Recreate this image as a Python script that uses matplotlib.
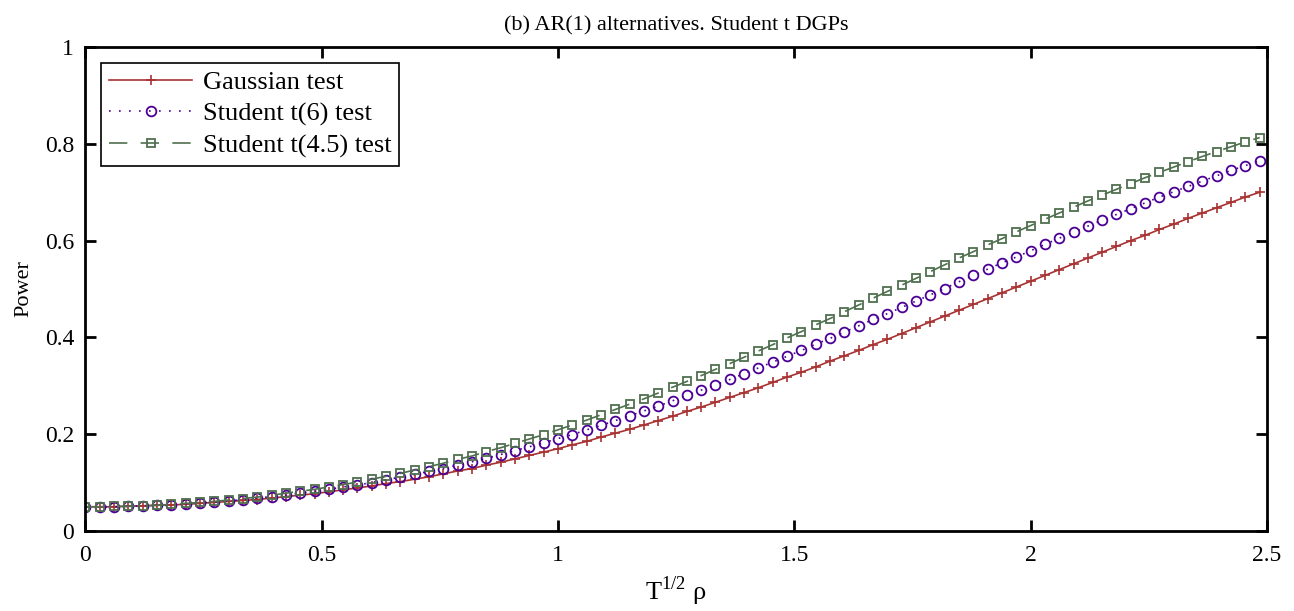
import numpy as np
import matplotlib
matplotlib.use("Agg")
import matplotlib.pyplot as plt

# x grid: T^{1/2} rho, 83 markers from 0 in steps of 1/33
n_points = 83
x_step = 1 / 33
x = np.arange(n_points) * x_step

gaussian = [0.050, 0.050, 0.050, 0.051, 0.052, 0.053, 0.054, 0.055, 0.057, 0.059,
            0.061, 0.063, 0.065, 0.068, 0.071, 0.074, 0.077, 0.081, 0.085, 0.089,
            0.093, 0.098, 0.102, 0.107, 0.112, 0.118, 0.124, 0.129, 0.136, 0.142,
            0.149, 0.156, 0.163, 0.170, 0.178, 0.185, 0.194, 0.202, 0.210, 0.219,
            0.228, 0.237, 0.247, 0.256, 0.266, 0.276, 0.286, 0.296, 0.307, 0.318,
            0.328, 0.339, 0.351, 0.362, 0.373, 0.385, 0.396, 0.408, 0.420, 0.432,
            0.444, 0.456, 0.468, 0.480, 0.492, 0.504, 0.516, 0.528, 0.540, 0.552,
            0.564, 0.576, 0.588, 0.600, 0.611, 0.623, 0.634, 0.646, 0.657, 0.668,
            0.679, 0.690, 0.700]

student_t6 = [0.050, 0.050, 0.050, 0.051, 0.052, 0.053, 0.054, 0.056, 0.058, 0.060,
              0.062, 0.065, 0.068, 0.071, 0.074, 0.078, 0.082, 0.086, 0.091, 0.095,
              0.100, 0.106, 0.111, 0.117, 0.123, 0.129, 0.136, 0.143, 0.150, 0.158,
              0.166, 0.174, 0.182, 0.191, 0.199, 0.209, 0.218, 0.228, 0.238, 0.248,
              0.258, 0.269, 0.280, 0.291, 0.302, 0.313, 0.325, 0.337, 0.349, 0.361,
              0.373, 0.386, 0.398, 0.411, 0.424, 0.437, 0.449, 0.462, 0.475, 0.488,
              0.501, 0.515, 0.528, 0.541, 0.554, 0.566, 0.579, 0.592, 0.605, 0.617,
              0.630, 0.642, 0.654, 0.666, 0.678, 0.690, 0.701, 0.712, 0.723, 0.734,
              0.745, 0.755, 0.765]

student_t45 = [0.050, 0.050, 0.051, 0.051, 0.052, 0.053, 0.055, 0.057, 0.059, 0.061,
               0.064, 0.067, 0.070, 0.074, 0.078, 0.082, 0.086, 0.091, 0.096, 0.101,
               0.107, 0.113, 0.119, 0.126, 0.133, 0.140, 0.148, 0.155, 0.164, 0.172,
               0.181, 0.190, 0.199, 0.209, 0.219, 0.229, 0.240, 0.251, 0.262, 0.273,
               0.285, 0.297, 0.309, 0.321, 0.334, 0.346, 0.359, 0.372, 0.385, 0.399,
               0.412, 0.426, 0.439, 0.453, 0.467, 0.481, 0.495, 0.508, 0.522, 0.536,
               0.550, 0.564, 0.577, 0.591, 0.604, 0.618, 0.631, 0.644, 0.657, 0.669,
               0.682, 0.694, 0.706, 0.718, 0.730, 0.741, 0.752, 0.763, 0.774, 0.784,
               0.794, 0.804, 0.813]

series_labels = ['Gaussian test', 'Student t(6) test', 'Student t(4.5) test']
x_ticks = [0, 0.5, 1, 1.5, 2, 2.5]
x_ticklabels = ['0', '0.5', '1', '1.5', '2', '2.5']
y_ticks = [0, 0.2, 0.4, 0.6, 0.8, 1]
y_ticklabels = ['0', '0.2', '0.4', '0.6', '0.8', '1']

plt.rcParams['font.family'] = ['Liberation Serif', 'DejaVu Serif']
plt.rcParams['mathtext.fontset'] = 'custom'
plt.rcParams['mathtext.rm'] = 'Liberation Serif'

fig = plt.figure(figsize=(12.94, 6.11), dpi=100)
ax = fig.add_axes([0.066, 0.131, 0.913, 0.792])
ax.plot(x, gaussian, color='#A83232', linestyle='-', linewidth=1.2, marker='+',
        markersize=7, markeredgewidth=1.2, label=series_labels[0])
ax.plot(x, student_t6, color='#4B0096', linestyle=(0, (1, 5)), linewidth=1.2, marker='o',
        markersize=7, markerfacecolor='none', markeredgewidth=1.3, label=series_labels[1])
ax.plot(x, student_t45, color='#4F6F4F', linestyle=(0, (11, 8)), linewidth=1.2, marker='s',
        markersize=6, markerfacecolor='none', markeredgewidth=1.3, label=series_labels[2])
ax.set_xlim(0, 2.5)
ax.set_ylim(0, 1)
ax.set_xticks(x_ticks)
ax.set_xticklabels(x_ticklabels)
ax.set_yticks(y_ticks)
ax.set_yticklabels(y_ticklabels)
ax.tick_params(direction='in', length=8, width=2, top=True, right=True, labelsize=17)
ax.tick_params(axis='x', pad=10)
ax.tick_params(axis='y', pad=8)
for s in ax.spines.values():
    s.set_linewidth(2)
ax.set_title('(b) AR(1) alternatives. Student t DGPs', fontsize=16, pad=12)
ax.set_ylabel('Power', fontsize=16, labelpad=8)
ax.set_xlabel(r'T$^{\mathrm{1/2}}$ ρ', fontsize=19, labelpad=6)
leg = ax.legend(loc='upper left', fontsize=19, frameon=True, fancybox=False, framealpha=1,
                edgecolor='black', handlelength=3.15, borderaxespad=0.6, borderpad=0.3,
                labelspacing=0.3, handletextpad=0.4)
leg.get_frame().set_linewidth(1.2)
fig.savefig("out.png", dpi=100)
